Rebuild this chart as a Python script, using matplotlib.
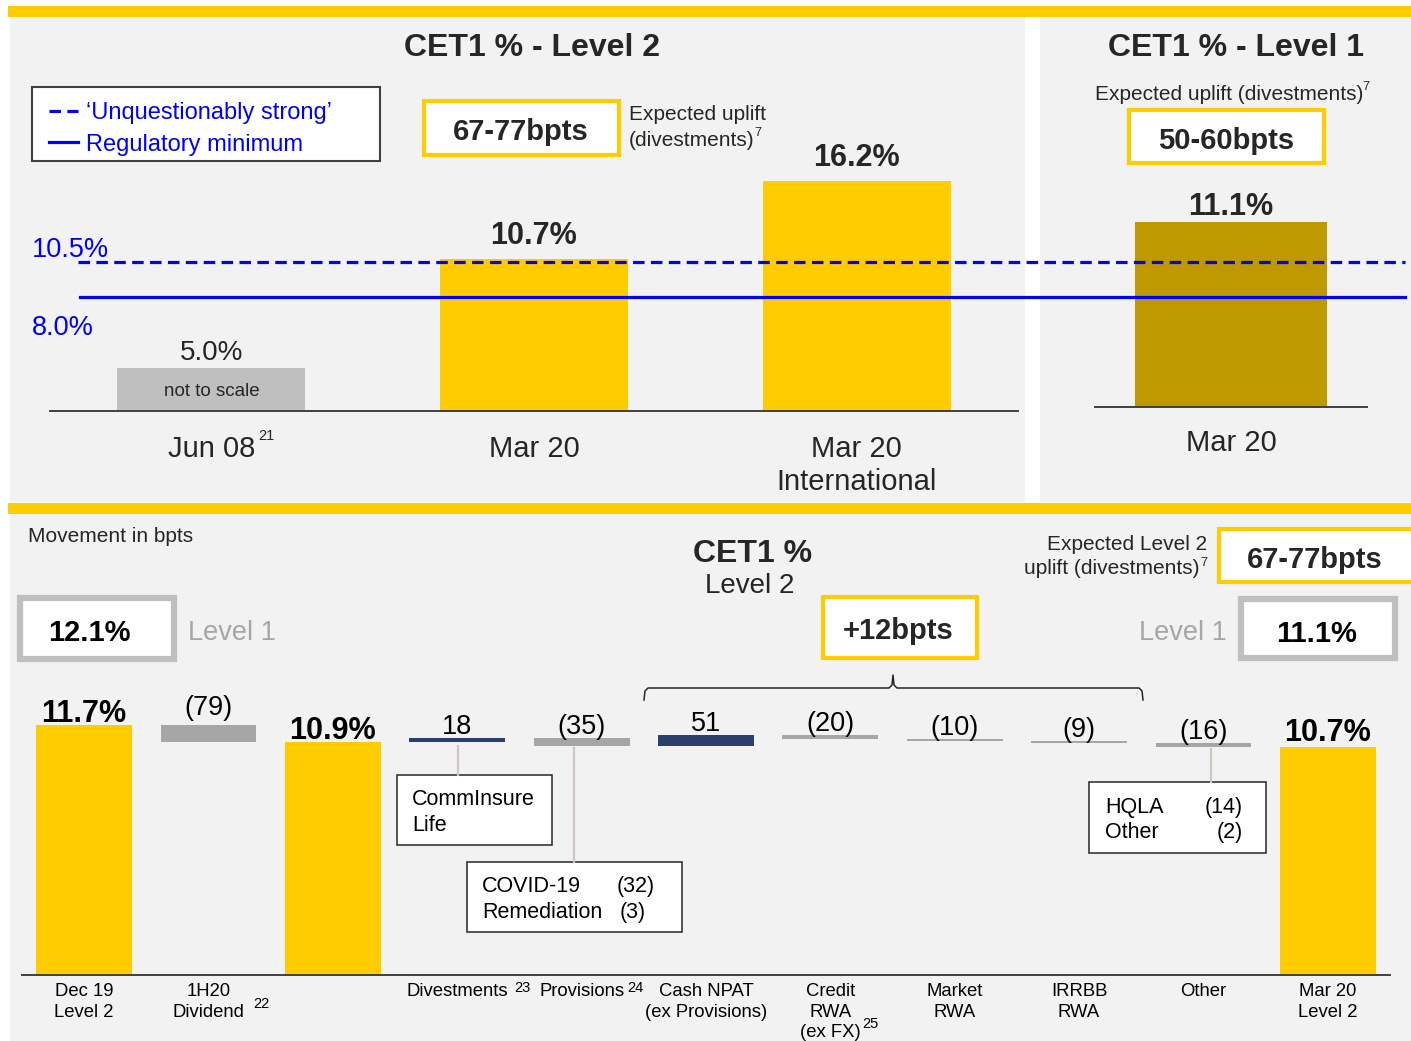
import matplotlib
matplotlib.use('Agg')
import matplotlib.pyplot as plt
import matplotlib.patches as patches
import matplotlib.transforms as transforms
import numpy as np

plt.rcParams['font.family'] = ['Liberation Sans', 'DejaVu Sans']

# ---- data ----
top_cats = ['Jun 08', 'Mar 20', 'Mar 20\nInternational']
top_vals = [5.0, 10.7, 16.2]          # CET1 % Level 2
jun08_drawn = 3.0                     # Jun 08 bar is "not to scale"
lvl1_cats = ['Mar 20']
lvl1_vals = [11.1]                    # CET1 % Level 1
unq_strong = 10.5
reg_min = 8.0

wf_cats = ['Dec 19\nLevel 2', '1H20\nDividend', '', 'Divestments', 'Provisions',
           'Cash NPAT\n(ex Provisions)', 'Credit\nRWA\n(ex FX)', 'Market\nRWA',
           'IRRBB\nRWA', 'Other', 'Mar 20\nLevel 2']
wf_start = 1170                       # bpts, Dec 19 Level 2
wf_moves = [-79, 18, -35, 51, -20, -10, -9, -16]
wf_totals = [11.7, 10.9, 10.7]

# ---- colours ----
YEL = '#FFCC00'
GOLD = '#BF9900'
BG = '#F2F2F2'
NAVY = '#2B3F6E'
GREY = '#A6A6A6'
LGREY = '#BFBFBF'
TXT = '#262626'
BLUE = '#0000FF'

W, H = 1411, 1041
fig = plt.figure(figsize=(W / 100, H / 100), dpi=100)


def px_axes(x0, y0, x1, y1, z):
    # axes placed by pixel box (y measured from the top)
    ax = fig.add_axes([x0 / W, 1 - y1 / H, (x1 - x0) / W, (y1 - y0) / H], zorder=z)
    return ax


bg = px_axes(0, 0, W, H, 0)
bg.set_xlim(0, W)
bg.set_ylim(H, 0)
bg.axis('off')
bg.add_patch(patches.Rectangle((10, 17), 1015, 485, fc=BG, ec='none'))
bg.add_patch(patches.Rectangle((1040, 17), 371, 485, fc=BG, ec='none'))
bg.add_patch(patches.Rectangle((10, 513), 1401, 528, fc=BG, ec='none'))
bg.add_patch(patches.Rectangle((8, 6), 1403, 11, fc=YEL, ec='none'))
bg.add_patch(patches.Rectangle((8, 503), 1403, 11, fc=YEL, ec='none'))

ov = px_axes(0, 0, W, H, 10)
ov.set_xlim(0, W)
ov.set_ylim(H, 0)
ov.axis('off')


def txt(x, y, s, **kw):
    kw.setdefault('va', 'center_baseline')
    kw.setdefault('color', TXT)
    return ov.text(x, y, s, **kw)


def style_axis(ax):
    for s in ['top', 'left', 'right']:
        ax.spines[s].set_visible(False)
    ax.spines['bottom'].set_color('#404040')
    ax.spines['bottom'].set_linewidth(1.4)
    ax.set_yticks([])
    ax.patch.set_visible(False)


# ---- top left: CET1 Level 2 ----
ax1 = px_axes(50, 100, 1018, 411, 3)
style_axis(ax1)
ax1.set_xlim(-0.5, 2.5)
ax1.set_ylim(0, 311 / 14.2)
x1 = np.arange(len(top_cats))
heights = [jun08_drawn] + top_vals[1:]
cols = [LGREY, YEL, YEL]
ax1.bar(x1, heights, width=0.582, color=cols, zorder=2)
for i, (h, v) in enumerate(zip(heights, top_vals)):
    ax1.annotate(f'{v:.1f}%', (i, h), xytext=(0, 6 if i == 0 else 11),
                 textcoords='offset points', ha='center', va='baseline',
                 fontsize=20 if i == 0 else 22,
                 fontweight='normal' if i == 0 else 'bold', color=TXT)
ax1.text(0, jun08_drawn / 2, 'not to scale', ha='center', va='center_baseline',
         fontsize=13.5, color=TXT)
ax1.set_xticks(x1)
ax1.set_xticklabels(top_cats, fontsize=21, color=TXT, linespacing=1.25)
ax1.tick_params(axis='x', length=0, pad=17)

# ---- top right: CET1 Level 1 ----
ax2 = px_axes(1095, 100, 1367, 407, 2)
style_axis(ax2)
ax2.set_xlim(-0.5, 0.5)
ax2.set_ylim(0, 307 / 16.67)
ax2.bar([0], lvl1_vals, width=0.706, color=GOLD, zorder=2)
ax2.annotate(f'{lvl1_vals[0]:.1f}%', (0, lvl1_vals[0]), xytext=(0, 5),
             textcoords='offset points', ha='center', va='baseline',
             fontsize=22, fontweight='bold', color=TXT)
ax2.set_xticks([0])
ax2.set_xticklabels(lvl1_cats, fontsize=21, color=TXT)
ax2.tick_params(axis='x', length=0, pad=16)

# threshold lines across both top panels
tr = transforms.blended_transform_factory(ov.transData, ax1.transData)
ax1.plot([78, 1405], [unq_strong, unq_strong], transform=tr, clip_on=False,
         color=BLUE, lw=2.3, dashes=(3.6, 2.0), zorder=5)
ax1.plot([80, 1405], [reg_min, reg_min], transform=tr, clip_on=False,
         color=BLUE, lw=2.3, zorder=5)

# ---- bottom: waterfall ----
ax3 = px_axes(22, 640, 1390, 975, 3)
style_axis(ax3)
ax3.set_xlim(-0.5, 10.5)
ax3.set_ylim(0, 335 / 0.2135)
bw = 0.77
level = wf_start
ax3.bar(0, level, width=bw, color=YEL)
ax3.annotate(f'{wf_totals[0]:.1f}%', (0, level), xytext=(0, 2.5),
             textcoords='offset points', ha='center', va='baseline',
             fontsize=22, fontweight='bold', color='black')
move_pos = [1, 3, 4, 5, 6, 7, 8, 9]
for pos, mv in zip(move_pos, wf_moves):
    if pos == 3:
        # subtotal after dividend
        ax3.bar(2, level, width=bw, color=YEL)
        ax3.annotate(f'{wf_totals[1]:.1f}%', (2, level), xytext=(0, 2.5),
                     textcoords='offset points', ha='center', va='baseline',
                     fontsize=22, fontweight='bold', color='black')
    new = level + mv
    ax3.bar(pos, abs(mv), bottom=min(level, new), width=bw,
            color=NAVY if mv > 0 else GREY)
    lab = str(mv) if mv > 0 else f'({-mv})'
    ax3.annotate(lab, (pos, max(level, new)), xytext=(0, 7 if pos == 1 else 3),
                 textcoords='offset points', ha='center', va='baseline',
                 fontsize=19.5, color='black')
    level = new
ax3.bar(10, level, width=bw, color=YEL)
ax3.annotate(f'{wf_totals[2]:.1f}%', (10, level), xytext=(0, 4),
             textcoords='offset points', ha='center', va='baseline',
             fontsize=22, fontweight='bold', color='black')
ax3.set_xticks(np.arange(len(wf_cats)))
ax3.set_xticklabels(wf_cats, fontsize=13.3, color='black', linespacing=1.27)
ax3.tick_params(axis='x', length=0, pad=6)

# ---- overlay texts and boxes ----
txt(532, 45, 'CET1 % - Level 2', ha='center', fontsize=23, fontweight='bold')
txt(1236, 45, 'CET1 % - Level 1', ha='center', fontsize=23, fontweight='bold')

# legend
ov.add_patch(patches.Rectangle((32, 87), 348, 74, fc='white', ec='#404040', lw=1.5))
ov.plot([49, 78], [111, 111], color=BLUE, lw=2.3, dashes=(3.6, 2.0))
ov.plot([49, 78], [142, 142], color=BLUE, lw=2.3)
txt(86, 111, '\u2018Unquestionably strong\u2019', color=BLUE, fontsize=17)
txt(86, 142, 'Regulatory minimum', color=BLUE, fontsize=17)

txt(32, 247, f'{unq_strong:.1f}%', color=BLUE, fontsize=19.5)
txt(32, 325, f'{reg_min:.1f}%', color=BLUE, fontsize=19.5)

ov.add_patch(patches.Rectangle((424, 101), 195, 54, fc='white', ec=YEL, lw=3))
txt(521, 129, '67-77bpts', ha='center', fontsize=21, fontweight='bold')
txt(629, 113, 'Expected uplift', fontsize=15)
txt(629, 139, '(divestments)', fontsize=15)
txt(754, 132, '7', fontsize=9)

txt(1095, 92, 'Expected uplift (divestments)', fontsize=15)
txt(1362, 86, '7', fontsize=9)
ov.add_patch(patches.Rectangle((1129, 110), 195, 53, fc='white', ec=YEL, lw=3))
txt(1226, 138, '50-60bpts', ha='center', fontsize=21, fontweight='bold')

txt(258, 434, '21', fontsize=10.5)

# bottom header
txt(28, 535, 'Movement in bpts', fontsize=15)
txt(753, 551, 'CET1 %', ha='center', fontsize=23, fontweight='bold')
txt(750, 583, 'Level 2', ha='center', fontsize=20)
txt(1207, 542, 'Expected Level 2', ha='right', fontsize=15)
txt(1199, 567, 'uplift (divestments)', ha='right', fontsize=15)
txt(1200, 561, '7', fontsize=9)
ov.add_patch(patches.Rectangle((1219, 529), 200, 53, fc='white', ec=YEL, lw=3))
txt(1315, 557, '67-77bpts', ha='center', fontsize=21, fontweight='bold')

ov.add_patch(patches.Rectangle((20, 598), 154, 61, fc='white', ec=LGREY, lw=4.5))
txt(89, 630, '12.1%', ha='center', fontsize=21, fontweight='bold', color='black')
txt(188, 630, 'Level 1', fontsize=19.5, color=GREY)
txt(1227, 630, 'Level 1', ha='right', fontsize=19.5, color=GREY)
ov.add_patch(patches.Rectangle((1241, 599), 154, 59, fc='white', ec=LGREY, lw=4.5))
txt(1317, 631, '11.1%', ha='center', fontsize=21, fontweight='bold', color='black')

ov.add_patch(patches.Rectangle((823, 597), 154, 61, fc='white', ec=YEL, lw=3))
txt(898, 628, '+12bpts', ha='center', fontsize=21, fontweight='bold')

# brace over the RWA / earnings items
brace = [(644, 700), (645, 691), (648, 688), (889, 688), (892, 685), (893, 675),
         (894, 685), (897, 688), (1139, 688), (1142, 691), (1143, 700)]
ov.plot([p[0] for p in brace], [p[1] for p in brace], color=TXT, lw=1.1)

# call-out boxes
cc = '#D0C6C2'
ov.plot([458, 458], [746, 775], color=cc, lw=1.6)
ov.plot([574, 574], [748, 862], color=cc, lw=1.6)
ov.plot([1211, 1211], [749, 782], color=cc, lw=1.6)
ov.add_patch(patches.Rectangle((397, 775), 155, 70, fc='white', ec=TXT, lw=1.1))
txt(412, 797, 'CommInsure', fontsize=15.5, color='black')
txt(412, 823, 'Life', fontsize=15.5, color='black')
ov.add_patch(patches.Rectangle((467, 862), 215, 70, fc='white', ec=TXT, lw=1.1))
txt(482, 884, 'COVID-19', fontsize=15.5, color='black')
txt(617, 884, '(32)', fontsize=15.5, color='black')
txt(482, 910, 'Remediation', fontsize=15.5, color='black')
txt(620, 910, '(3)', fontsize=15.5, color='black')
ov.add_patch(patches.Rectangle((1089, 782), 177, 71, fc='white', ec=TXT, lw=1.1))
txt(1105, 805, 'HQLA', fontsize=15.5, color='black')
txt(1243, 805, '(14)', fontsize=15.5, ha='right', color='black')
txt(1105, 830, 'Other', fontsize=15.5, color='black')
txt(1243, 830, '(2)', fontsize=15.5, ha='right', color='black')

# footnote markers on the waterfall labels
txt(253, 1003, '22', fontsize=10.5, color='black')
txt(514, 986, '23', fontsize=10.5, color='black')
txt(627, 986, '24', fontsize=10.5, color='black')
txt(862, 1022, '25', fontsize=10.5, color='black')

fig.savefig('out.png', dpi=100)
